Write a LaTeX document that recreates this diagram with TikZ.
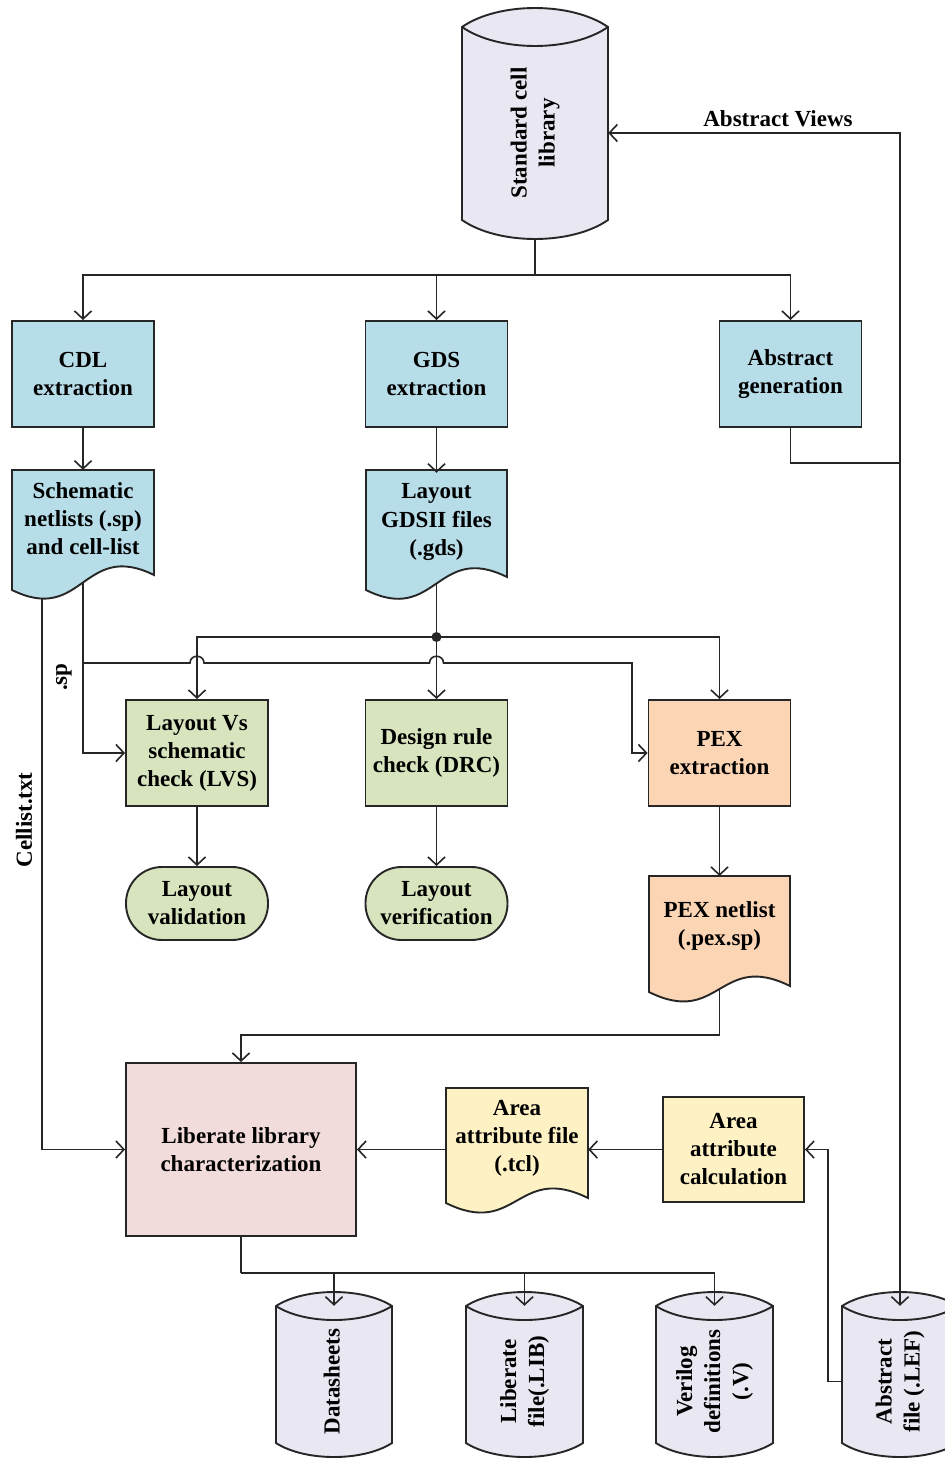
\documentclass[tikz,border=0pt]{standalone}
\usepackage{fontspec}
\setmainfont{Liberation Serif}
\usetikzlibrary{arrows.meta,calc}
\definecolor{cylc}{HTML}{E9E7F1}
\definecolor{bluec}{HTML}{B7DDE8}
\definecolor{greenc}{HTML}{D7E4BD}
\definecolor{orangec}{HTML}{FCD5B5}
\definecolor{pinkc}{HTML}{F2DCDB}
\definecolor{yelc}{HTML}{FEF2C4}
\tikzset{
  shapeline/.style={draw=black!85, line width=1.9pt},
  box/.style={shapeline, rectangle, inner sep=0pt, minimum width=142pt, minimum height=106pt, align=center},
  lbl/.style={inner sep=0pt, align=center},
  conn/.style={line width=1.6pt, draw=black!85},
  tipa/.tip={Straight Barb[length=8pt,width=17pt]},
  arr/.style={conn, -tipa},
  every node/.style={font=\fontsize{23}{28}\selectfont\bfseries}
}
% document shape: x1, ytop, x2, yleft, yright, colour
\newcommand\docshape[6]{%
  \filldraw[shapeline, fill=#6] (#1,#2) -- (#3,#2) -- (#3,#5)
    .. controls ({(#1+#3)/2},{#5-35}) and ({(#1+#3)/2},{#4+35}) .. (#1,#4) -- cycle;}
% cylinder: x1, x2, ytop, ybot, depth
\newcommand\cylshape[5]{%
  \filldraw[shapeline, fill=cylc] (#1,#3)
    .. controls ({#1+0.25*(#2-#1)},{#3-1.333*#5}) and ({#2-0.25*(#2-#1)},{#3-1.333*#5}) .. (#2,#3)
    -- (#2,#4)
    .. controls ({#2-0.25*(#2-#1)},{#4+1.333*#5}) and ({#1+0.25*(#2-#1)},{#4+1.333*#5}) .. (#1,#4) -- cycle;
  \draw[shapeline] (#1,#3)
    .. controls ({#1+0.25*(#2-#1)},{#3+1.333*#5}) and ({#2-0.25*(#2-#1)},{#3+1.333*#5}) .. (#2,#3);}
\newcommand\rtext[1]{\rotatebox{90}{\begin{tabular}{@{}c@{}}#1\end{tabular}}}
\begin{document}
\begin{tikzpicture}[x=1pt,y=-1pt]
\useasboundingbox[fill=white] (0,0) rectangle (945,1459);

% ---- shapes drawn directly ----
\cylshape{462}{608}{27}{220}{19}
\cylshape{276}{392}{1306}{1443}{14}
\cylshape{466}{583}{1306}{1443}{14}
\cylshape{656}{773}{1306}{1443}{14}
\cylshape{842}{958}{1306}{1443}{14}
\docshape{12}{470}{154}{590}{575}{bluec}
\docshape{366}{470}{507}{590}{577}{bluec}
\docshape{649}{876}{790}{992}{986}{orangec}
\docshape{446}{1088}{588}{1203}{1198}{yelc}

% ---- nodes ----
\node[lbl, minimum width=146pt, minimum height=212pt] (std) at (535,133) {\rtext{Standard cell\\library}};
\node[box, fill=bluec] (cdl) at (83,374) {CDL\\extraction};
\node[box, fill=bluec] (gds) at (436.5,374) {GDS\\extraction};
\node[box, fill=bluec] (agen) at (790.5,374) {Abstract\\generation};
\node[lbl, minimum width=142pt, minimum height=98pt] (sch) at (83,519) {Schematic\\netlists (.sp)\\and cell-list};
\node[lbl, minimum width=141pt, minimum height=98pt] (lay) at (436.5,522) {Layout\\GDSII files\\(.gds)};
\node[box, fill=greenc] (lvs) at (197,753) {Layout Vs\\schematic\\check (LVS)};
\node[box, fill=greenc] (drc) at (436.5,753) {Design rule\\check (DRC)};
\node[box, fill=orangec] (pex) at (719.5,753) {PEX\\extraction};
\node[box, fill=greenc, minimum height=73pt, rounded corners=36pt] (lval) at (197,903.5) {Layout\\validation};
\node[box, fill=greenc, minimum height=73pt, rounded corners=36pt] (lver) at (436.5,903.5) {Layout\\verification};
\node[lbl, minimum width=141pt, minimum height=98pt] (pexn) at (719.5,926) {PEX netlist\\(.pex.sp)};
\node[box, fill=pinkc, minimum width=230pt, minimum height=173pt] (lib) at (241,1149.5) {Liberate library\\characterization};
\node[lbl, minimum width=142pt, minimum height=98pt] (atf) at (517,1138) {Area\\attribute file\\(.tcl)};
\node[box, fill=yelc, minimum width=141pt, minimum height=105pt] (acalc) at (733.5,1149.5) {Area\\attribute\\calculation};
\node[lbl, minimum width=116pt, minimum height=151pt] (ds) at (334,1381.5) {\rtext{Datasheets}};
\node[lbl, minimum width=117pt, minimum height=151pt] (lf) at (524.5,1381.5) {\rtext{Liberate\\file(.LIB)}};
\node[lbl, minimum width=117pt, minimum height=151pt] (vd) at (714.5,1381.5) {\rtext{Verilog\\definitions\\(.V)}};
\node[lbl, minimum width=116pt, minimum height=151pt] (absf) at (900,1381.5) {\rtext{Abstract\\file (.LEF)}};

\node[lbl] (avl) at (778,119) {Abstract Views};
\node[lbl, rotate=90] (cll) at (24,820) {Cellist.txt};
\node[lbl, rotate=90] (spl) at (64,677) {.sp};

% ---- coordinates on wavy edges ----
\coordinate (schb1) at (42,598);
\coordinate (schb2) at (83,582.5);
\coordinate (layb) at (436.5,583.5);
\coordinate (pexb) at (719.5,989);
\coordinate (jd) at (436.5,637);
\coordinate (spj) at (83,663);

% ---- connectors ----
\draw[conn] (std.south) -- ++(0,36) coordinate (tj);
\draw[arr] (tj) -| (cdl.north);
\draw[arr] (tj) -| (gds.north);
\draw[arr] (tj) -| (agen.north);
\draw[conn, tipa-tipa] (absf.north) |- (std.east);
\draw[conn] (agen.south) |- ([yshift=-35pt]agen.south -| absf.north);

\draw[arr] (cdl.south) -- (sch.north);
\draw[arr] (gds.south) -- (lay.north -| gds.south);

\draw[conn] (layb) -- (jd);
\fill[black!85] (jd) circle (5pt);
\draw[arr] (jd) -| (lvs.north);
\draw[arr] (jd) -- (drc.north);
\draw[arr] (jd) -| (pex.north);

\draw[arr] (schb2) |- (lvs.west);
\draw[arr] (spj) -- (190,663) .. controls (190,654) and (204,654) .. (204,663)
  -- (429.5,663) .. controls (429.5,654) and (443.5,654) .. (443.5,663)
  -- (632,663) |- (pex.west);

\draw[arr] (lvs.south) -- (lval.north);
\draw[arr] (drc.south) -- (lver.north);
\draw[arr] (pex.south) -- (pex.south |- 0,876);

\draw[arr] (pexb) -- ++(0,46) -| (lib.north);
\draw[arr] (schb1) |- (lib.west);
\draw[arr] (lib.east -| atf.west) -- (lib.east);
\draw[arr] (acalc.west) -- (acalc.west -| atf.east);
\draw[arr] (absf.west) -- ++(-14,0) |- (acalc.east);

\draw[conn] (lib.south) -- ++(0,36) coordinate (lb);
\draw[arr] (lb) -| (ds.north);
\draw[arr] (lb) -| (lf.north);
\draw[arr] (lb) -| (vd.north);
\end{tikzpicture}
\end{document}
